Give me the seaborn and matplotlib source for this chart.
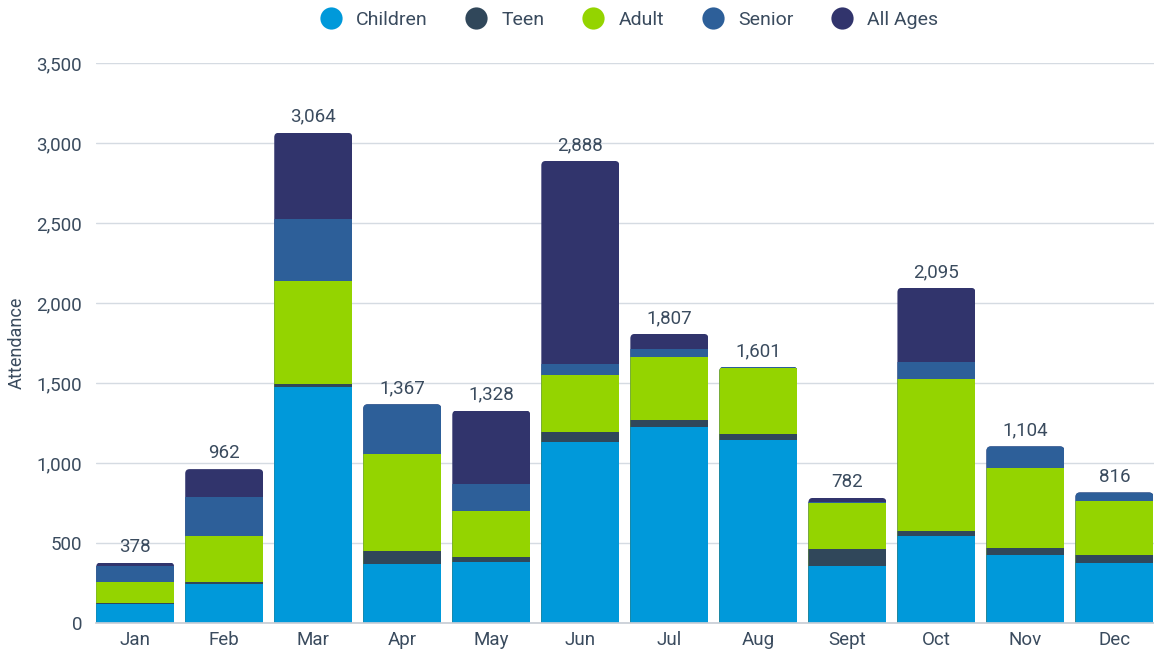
import pandas as pd
import seaborn as sns
import matplotlib.pyplot as plt
from matplotlib.lines import Line2D
from matplotlib.patches import FancyBboxPatch
from matplotlib.ticker import FuncFormatter

# monthly attendance by age group
months = ["Jan", "Feb", "Mar", "Apr", "May", "Jun", "Jul", "Aug", "Sept", "Oct", "Nov", "Dec"]
children = [120, 244, 1475, 371, 379, 1129, 1223, 1141, 358, 541, 427, 375]
teen = [4, 10, 19, 81, 35, 62, 48, 42, 102, 36, 44, 52]
adult = [132, 287, 645, 604, 288, 361, 393, 412, 290, 950, 498, 335]
senior = [100, 246, 388, 311, 167, 69, 51, 6, 4, 104, 135, 54]
all_ages = [22, 175, 537, 0, 459, 1267, 92, 0, 28, 464, 0, 0]

groups = ["Children", "Teen", "Adult", "Senior", "All Ages"]
colors = ["#0099da", "#30475a", "#94d400", "#2d5f99", "#31346c"]
text_col = "#3a4b5e"

sns.set_theme(style="white")
plt.rcParams["font.family"] = ["Roboto", "DejaVu Sans"]

df = pd.DataFrame({"month": months, "Children": children, "Teen": teen,
                   "Adult": adult, "Senior": senior, "All Ages": all_ages})

fig = plt.figure(figsize=(11.54, 6.6), dpi=100)
ax = fig.add_axes([0.0832, 0.056, 0.9165, 0.8485])

# stacked bars: draw cumulative sums from the top layer down
cum = df[groups].cumsum(axis=1)
for g, c in reversed(list(zip(groups, colors))):
    sns.barplot(x=df["month"], y=cum[g], color=c, width=0.876, ax=ax,
                saturation=1, linewidth=0, zorder=2)

ax.set_ylim(0, 3500)
ax.set_xlim(-0.44, 11.44)

# round the top corners of each stack with a clip path
totals = df[groups].sum(axis=1)
bw = 0.876
for i, t in enumerate(totals):
    clip = FancyBboxPatch((i - bw / 2, -200), bw, t + 200,
                          boxstyle="round,pad=0,rounding_size=0.05",
                          mutation_aspect=556, transform=ax.transData)
    for p in ax.patches:
        if abs(p.get_x() + p.get_width() / 2 - i) < 0.1:
            p.set_clip_path(clip)

for i, t in enumerate(totals):
    ax.annotate(f"{t:,}", (i, t), xytext=(0, 5), textcoords="offset points",
                ha="center", va="bottom", fontsize=13.5, color=text_col)

ax.set_yticks(range(0, 3501, 500))
ax.yaxis.set_major_formatter(FuncFormatter(lambda v, p: f"{int(v):,}"))
ax.grid(axis="y", color="#d5dbe2", linewidth=1, zorder=0)
ax.set_axisbelow(True)
for s in ["top", "right", "left"]:
    ax.spines[s].set_visible(False)
ax.spines["bottom"].set_color("#c8ced6")
ax.tick_params(axis="both", length=0, labelsize=13.5, labelcolor=text_col)
ax.tick_params(axis="y", pad=10)
ax.tick_params(axis="x", pad=6)
ax.set_xlabel("")
ax.set_ylabel("Attendance", fontsize=13, color=text_col, labelpad=8)

handles = [Line2D([], [], marker="o", linestyle="", markersize=16,
                  markerfacecolor=c, markeredgewidth=0) for c in colors]
ax.legend(handles, groups, loc="center", bbox_to_anchor=(0.5, 1.077),
          ncol=5, frameon=False, fontsize=14, labelcolor=text_col,
          handletextpad=0.3, columnspacing=1.5)

fig.savefig("out.png", dpi=100)
